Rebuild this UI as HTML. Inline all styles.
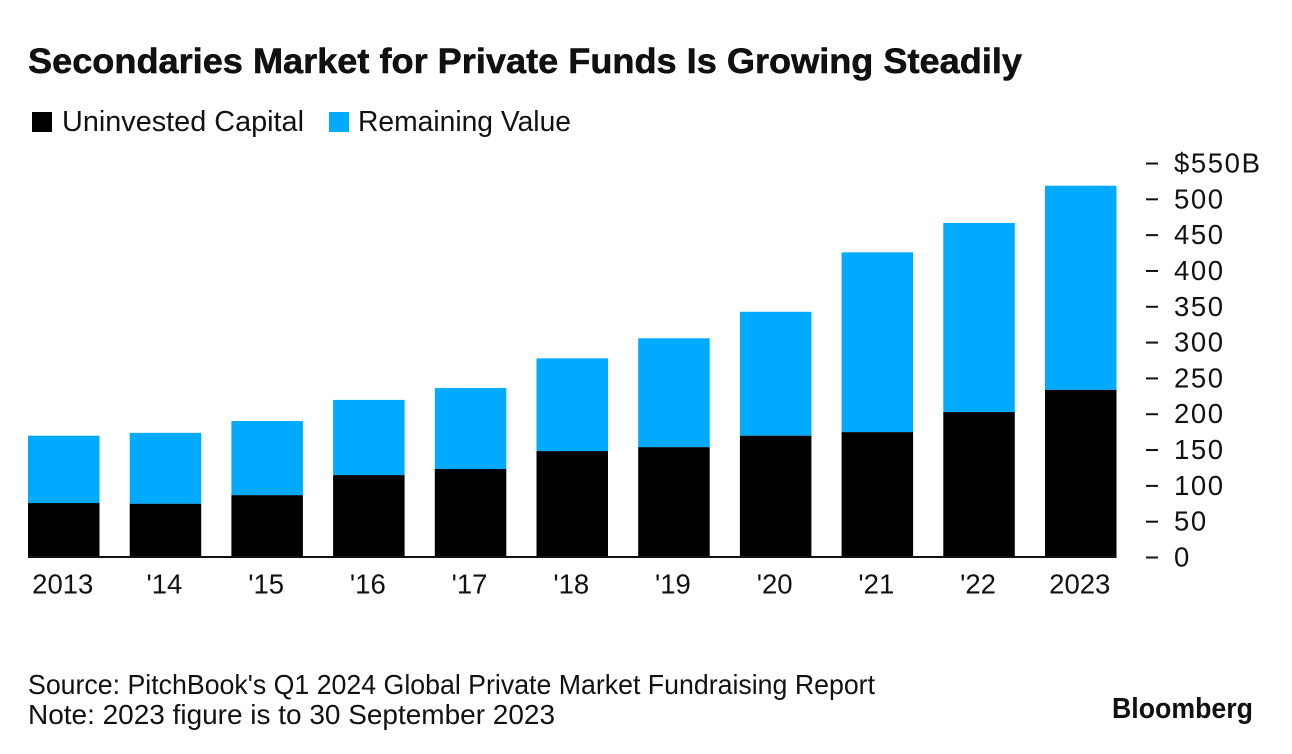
<!DOCTYPE html>
<html lang="en">
<head>
<meta charset="utf-8">
<title>Secondaries Market for Private Funds Is Growing Steadily</title>
<style>
html,body{margin:0;padding:0;background:#fff;}
svg{display:block;}
text{font-family:"Liberation Sans",sans-serif;fill:#111;}
</style>
</head>
<body>
<svg id="chart" width="1292" height="754" viewBox="0 0 1292 754" xmlns="http://www.w3.org/2000/svg">
  <rect x="0" y="0" width="1292" height="754" fill="#ffffff"/>
  <text x="28" y="73" font-size="35.5" font-weight="700" fill="#000" stroke="#000" stroke-width="0.5" textLength="994" lengthAdjust="spacingAndGlyphs">Secondaries Market for Private Funds Is Growing Steadily</text>
  <g>
    <rect x="32" y="112" width="20" height="20" fill="#000000"/>
    <text x="62" y="131" font-size="29" textLength="242" lengthAdjust="spacingAndGlyphs">Uninvested Capital</text>
    <rect x="329" y="112" width="20" height="20" fill="#00aaff"/>
    <text x="358" y="131" font-size="29" textLength="213" lengthAdjust="spacingAndGlyphs">Remaining Value</text>
  </g>
  <g id="bars"></g>
  <line x1="28" y1="557" x2="1116" y2="557" stroke="#111" stroke-width="2"/>
  <g id="x-axis"></g>
  <g id="y-axis"></g>
  <g>
    <text x="28" y="694" font-size="27.5" textLength="847" lengthAdjust="spacingAndGlyphs">Source: PitchBook's Q1 2024 Global Private Market Fundraising Report</text>
    <text x="28" y="724" font-size="27.5" textLength="527" lengthAdjust="spacingAndGlyphs">Note: 2023 figure is to 30 September 2023</text>
    <text x="1112" y="718" font-size="29" font-weight="700" fill="#000" textLength="141" lengthAdjust="spacingAndGlyphs">Bloomberg</text>
  </g>
</svg>
<script>
const categories = ["2013", "'14", "'15", "'16", "'17", "'18", "'19", "'20", "'21", "'22", "2023"];
const uninvestedCapital = [76, 75, 87, 115, 123.5, 148.5, 154, 170, 175, 203, 234];
const remainingValue = [94, 99, 103.5, 105, 113, 129.5, 152, 173, 251, 264, 285];
const yTicks = [0, 50, 100, 150, 200, 250, 300, 350, 400, 450, 500, 550];
const yTickLabels = ["0", "50", "100", "150", "200", "250", "300", "350", "400", "450", "500", "$550B"];

const SVG_NS = "http://www.w3.org/2000/svg";
const plotLeft = 28, plotRight = 1116.5, plotBottom = 557.5, plotTop = 163.5;
const yMax = yTicks[yTicks.length - 1];
const barWidth = 71.5;

function yScale(v) {
  return plotBottom - (v / yMax) * (plotBottom - plotTop);
}
function xBandCenter(i) {
  const step = (plotRight - plotLeft - barWidth) / (categories.length - 1);
  return plotLeft + barWidth / 2 + i * step;
}

const barsGroup = document.getElementById("bars");
const xAxisGroup = document.getElementById("x-axis");
const yAxisGroup = document.getElementById("y-axis");

categories.forEach(function (cat, i) {
  const cx = xBandCenter(i);
  const black = uninvestedCapital[i];
  const total = black + remainingValue[i];

  const blueRect = document.createElementNS(SVG_NS, "rect");
  blueRect.setAttribute("x", cx - barWidth / 2);
  blueRect.setAttribute("y", yScale(total));
  blueRect.setAttribute("width", barWidth);
  blueRect.setAttribute("height", yScale(black) - yScale(total));
  blueRect.setAttribute("fill", "#00aaff");
  
  
  barsGroup.appendChild(blueRect);

  const blackRect = document.createElementNS(SVG_NS, "rect");
  blackRect.setAttribute("x", cx - barWidth / 2);
  blackRect.setAttribute("y", yScale(black));
  blackRect.setAttribute("width", barWidth);
  blackRect.setAttribute("height", yScale(0) - yScale(black) + 0.5);
  blackRect.setAttribute("fill", "#000000");
  
  
  barsGroup.appendChild(blackRect);

  const label = document.createElementNS(SVG_NS, "text");
  label.setAttribute("x", cx - 1);
  label.setAttribute("y", 593.5);
  label.setAttribute("text-anchor", "middle");
  label.setAttribute("font-size", "27.5");
  label.textContent = cat;
  
  
  xAxisGroup.appendChild(label);
});

yTicks.forEach(function (tick, i) {
  const y = yScale(tick);

  const mark = document.createElementNS(SVG_NS, "line");
  mark.setAttribute("x1", 1146);
  mark.setAttribute("x2", 1158);
  mark.setAttribute("y1", y);
  mark.setAttribute("y2", y);
  mark.setAttribute("stroke", "#111");
  mark.setAttribute("stroke-width", "2");
  
  
  yAxisGroup.appendChild(mark);

  const label = document.createElementNS(SVG_NS, "text");
  label.setAttribute("x", 1174);
  label.setAttribute("y", y + 9);
  label.setAttribute("font-size", "27.5");
  label.setAttribute("letter-spacing", "1.6");
  label.textContent = yTickLabels[i];
  
  
  yAxisGroup.appendChild(label);
});
</script>
</body>
</html>
